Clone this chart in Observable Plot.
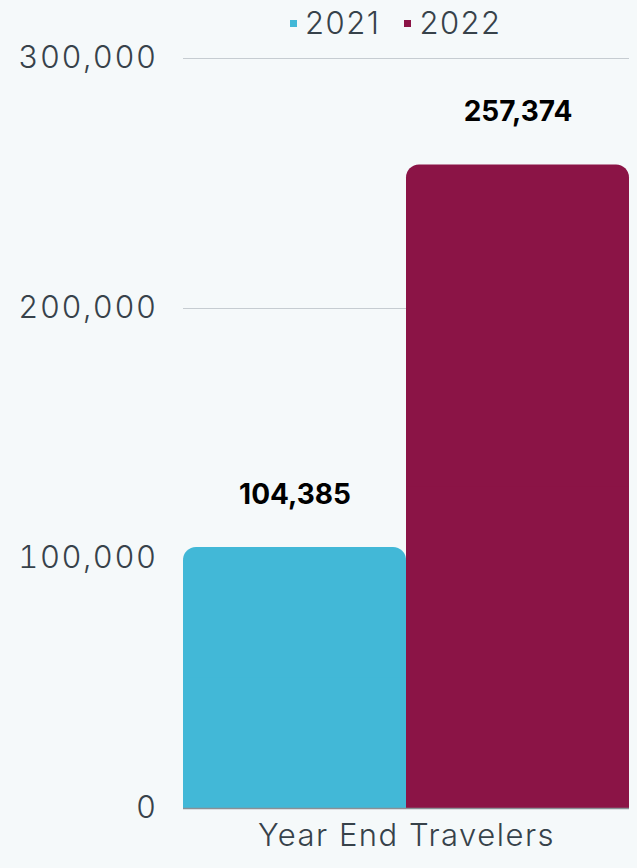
<!DOCTYPE html>
<html>
<head>
<meta charset="utf-8">
<script src="https://cdn.jsdelivr.net/npm/d3@7"></script>
<script src="https://cdn.jsdelivr.net/npm/@observablehq/plot@0.6"></script>
<style>
  html, body { margin: 0; padding: 0; background: #f5f9fa; }
  body { width: 637px; height: 868px; overflow: hidden; font-family: Inter, "Open Sans", sans-serif; color: #37424a; }
  #legend { height: 45px; display: flex; align-items: center; padding-left: 290px; box-sizing: border-box; font-size: 31px; font-weight: 300; letter-spacing: 1.5px; }
  .item { display: flex; align-items: center; margin-right: 24px; }
  .sw { width: 7px; height: 7px; margin-right: 8px; margin-top: 2px; }
  svg { display: block; overflow: visible; }
  svg g[aria-label="y-axis tick label"] text, svg > g:last-child text { letter-spacing: 1.5px; font-weight: 300; }
</style>
</head>
<body>
<div id="legend"></div>
<div id="chart"></div>
<script>
const series = ["2021", "2022"];
const values = [104385, 257374];
const category = "Year End Travelers";
const colors = ["#42b8d7", "#8b1446"];
const yTicks = [0, 100000, 200000, 300000];

const data = series.map((s, i) => ({year: s, value: values[i]}));
const fmt = d3.format(",");

const legend = document.getElementById("legend");
series.forEach((s, i) => {
  const it = document.createElement("div");
  it.className = "item";
  const sw = document.createElement("span");
  sw.className = "sw";
  sw.style.background = colors[i];
  const tx = document.createElement("span");
  tx.textContent = s;
  it.appendChild(sw); it.appendChild(tx);
  legend.appendChild(it);
});

const chart = Plot.plot({
  width: 637,
  height: 823,
  marginTop: 13,
  marginBottom: 60,
  marginLeft: 183,
  marginRight: 8,
  style: {background: "transparent", color: "#37424a", fontFamily: "Inter, 'Open Sans', sans-serif"},
  x: {domain: series, padding: 0, axis: null},
  y: {domain: [0, 300000], axis: null},
  color: {domain: series, range: colors},
  marks: [
    Plot.gridY(yTicks.slice(1), {stroke: "#c6ccd1", strokeOpacity: 1, strokeWidth: 1}),
    Plot.axisY(yTicks, {tickSize: 0, tickPadding: 26, tickFormat: fmt, fontSize: 31, label: null}),
    Plot.barY(data, {x: "year", y: "value", fill: "year", rx: 13}),
    Plot.barY(data, {x: "year", y: d => d.value / 2, fill: "year"}),
    Plot.ruleY([0], {stroke: "#8a9096", strokeWidth: 1.5}),
    Plot.text(data, {x: "year", y: "value", text: d => fmt(d.value), dy: -53, fontSize: 28, fontWeight: 700, fill: "#000"}),
    Plot.text([category], {frameAnchor: "bottom", dy: 37, fontSize: 31, fill: "#37424a"})
  ]
});
document.getElementById("chart").appendChild(chart);
</script>
</body>
</html>
